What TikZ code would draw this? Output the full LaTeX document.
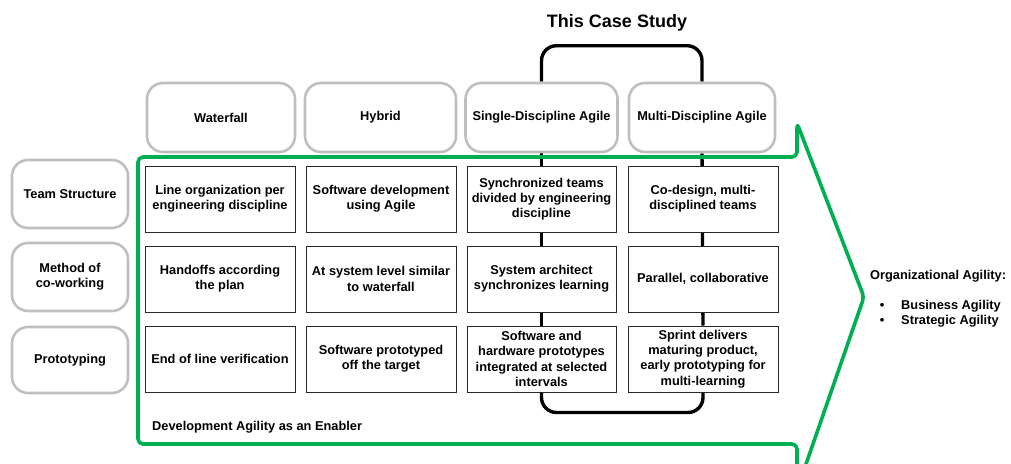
\documentclass[tikz,border=0pt]{standalone}
\usepackage{fontspec}
\setmainfont{Liberation Sans}
\usetikzlibrary{backgrounds}
\definecolor{agilegreen}{RGB}{0,176,80}
\definecolor{framegray}{RGB}{191,191,191}
\definecolor{cellline}{RGB}{40,40,40}

\begin{document}
\begin{tikzpicture}[x=1pt,y=-1pt,
  every node/.style={font=\fontsize{12.8}{15.3}\selectfont\bfseries, align=center, inner sep=0pt},
  phase/.style={draw=framegray, line width=2.6pt, rounded corners=16pt, fill=white,
                minimum height=69pt},
  aspect/.style={draw=framegray, line width=2.6pt, rounded corners=16pt, fill=white,
                 minimum width=116pt},
  cell/.style={draw=cellline, line width=1pt, fill=white,
               minimum width=150pt, minimum height=66pt},
  bracket/.style={draw=black, line width=3.4pt, rounded corners=15pt},
  enabler/.style={draw=agilegreen, line width=3.6pt, rounded corners=5pt, line join=round}
]
\useasboundingbox (0,0) rectangle (1011,463);

% title
\node[font=\fontsize{18}{20}\selectfont\bfseries] (title) at (617,23) {This Case Study};

% phases of agility
\node[phase, minimum width=148pt] (hW) at (221,117.5) {Waterfall};
\node[phase, minimum width=151pt] (hH) at (380.5,117.5) {Hybrid};
\node[phase, minimum width=152pt] (hS) at (541.5,117.5) {Single-Discipline Agile};
\node[phase, minimum width=146pt] (hM) at (702,117.5) {Multi-Discipline Agile};

% aspects
\node[aspect, minimum height=68pt] (aT) at (70,194) {Team Structure};
\node[aspect, minimum height=68pt] (aC) at (70,277) {Method of\\co-working};
\node[aspect, minimum height=66pt] (aP) at (70,360) {Prototyping};

% team structure
\node[cell] (c1r1) at (220,199) {Line organization per\\engineering discipline};
\node[cell] (c2r1) at (381,199) {Software development\\using Agile};
\node[cell, minimum width=149pt] (c3r1) at (541.5,199) {Synchronized teams\\divided by engineering\\discipline};
\node[cell] (c4r1) at (703,199) {Co-design, multi-\\disciplined teams};

% method of co-working
\node[cell] (c1r2) at (220,279) {Handoffs according\\the plan};
\node[cell] (c2r2) at (381,279) {At system level similar\\to waterfall};
\node[cell, minimum width=149pt] (c3r2) at (541.5,279) {System architect\\synchronizes learning};
\node[cell] (c4r2) at (703,279) {Parallel, collaborative};

% prototyping
\node[cell] (c1r3) at (220,359) {End of line verification};
\node[cell] (c2r3) at (381,359) {Software prototyped\\off the target};
\node[cell, minimum width=149pt] (c3r3) at (541.5,359) {Software and\\hardware prototypes\\integrated at selected\\intervals};
\node[cell] (c4r3) at (703,359) {Sprint delivers\\maturing product,\\early prototyping for\\multi-learning};

% enabler caption
\node[anchor=west] (dev) at (152,427) {Development Agility as an Enabler};

% organizational agility
\node[anchor=west] (org) at (870,276) {Organizational Agility:};
\node (b1) at (882,306) {\textbullet};
\node[anchor=west] (t1) at (901,306) {Business Agility};
\node (b2) at (882,321) {\textbullet};
\node[anchor=west] (t2) at (901,321) {Strategic Agility};

\begin{pgfonlayer}{background}
  % case-study bracket
  \draw[bracket] (hS.north) -- ++(0,-36) -| (hM.north);
  \draw[bracket, rounded corners=0pt] (hS.south) -- (c3r3.north);
  \draw[bracket, rounded corners=0pt] (hM.south) -- (c4r3.north);
  \draw[bracket] (c3r3.south) -- ++(0,20) -| (c4r3.south);
  % development-agility chevron
  \begin{scope}
    \clip (0,0) rectangle (1011,463);
    \draw[enabler] (797,123) -- (864,297) -- (797,490) -- (797,444)
      -- (138,444) -- (138,157) -- (797,157) -- cycle;
  \end{scope}
\end{pgfonlayer}
\end{tikzpicture}
\end{document}
